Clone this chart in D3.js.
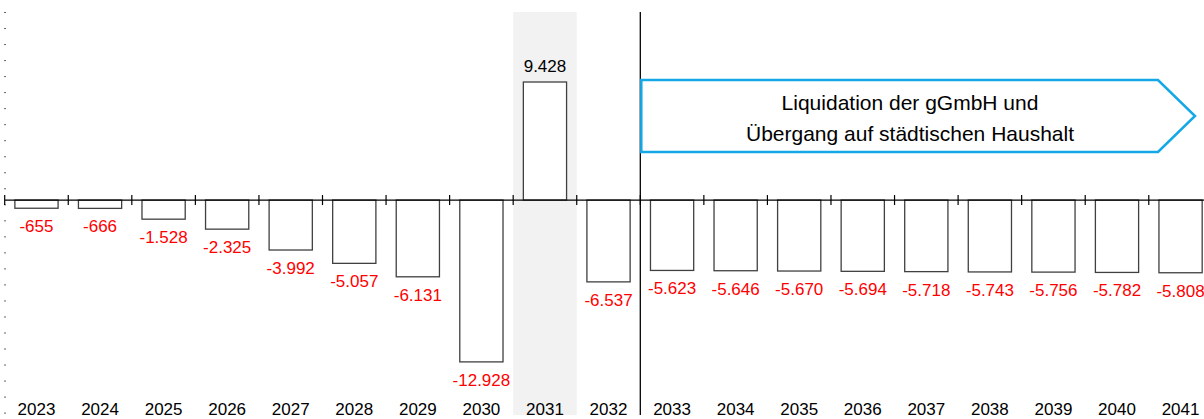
<!DOCTYPE html>
<html>
<head>
<meta charset="utf-8">
<script src="https://cdn.jsdelivr.net/npm/d3@7"></script>
<style>
  body{margin:0;background:#fff;}
  svg{display:block;font-family:"Liberation Sans",Arial,sans-serif;}
</style>
</head>
<body>
<div id="chart"></div>
<script>
const years = ["2023","2024","2025","2026","2027","2028","2029","2030","2031","2032",
               "2033","2034","2035","2036","2037","2038","2039","2040","2041"]
const values = [-655,-666,-1528,-2325,-3992,-5057,-6131,-12928,9428,-6537,
                -5623,-5646,-5670,-5694,-5718,-5743,-5756,-5782,-5808]
const highlightYear = "2031"
const splitAfter = "2032"
const noteLines = ["Liquidation der gGmbH und","Übergang auf städtischen Haushalt"]

const width = 1204, height = 419
const plotTop = 12, plotBottom = 415

const de = d3.formatLocale({decimal:",",thousands:".",grouping:[3],currency:["","€"],minus:"-"})
const fmt = de.format(",d")

const data = years.map((y,i)=>({year:y,value:values[i]}))

const x = d3.scaleBand()
  .domain(years)
  .range([4.7, 4.7 + 63.56*years.length])
  .paddingInner(0.32)
  .paddingOuter(0.16)

const y = d3.scaleLinear()
  .domain([-17170, 15020])
  .range([plotBottom, plotTop])

const svg = d3.select("#chart").append("svg")
  .attr("width",width).attr("height",height)

// highlighted column
svg.append("rect")
  .attr("x", x(highlightYear) - x.step()*x.paddingInner()/2)
  .attr("y", plotTop)
  .attr("width", x.step())
  .attr("height", plotBottom - plotTop)
  .attr("fill","#f2f2f2")

// faint left axis marks
const yAxis = d3.axisLeft(y)
  .tickValues(d3.range(15020, -17170, -1280))
  .tickSize(2).tickFormat("")
const yG = svg.append("g").attr("transform","translate(6,0)").call(yAxis)
yG.select(".domain").remove()
yG.selectAll("line").attr("stroke","#666").attr("stroke-width",1)

// split line
const splitX = x(splitAfter) + x.bandwidth() + x.step()*x.paddingInner()/2
svg.append("line")
  .attr("x1",splitX).attr("x2",splitX)
  .attr("y1",plotTop).attr("y2",plotBottom)
  .attr("stroke","#000").attr("stroke-width",1.3)

// bars
svg.selectAll(".bar")
  .data(data)
  .enter().append("rect")
  .attr("class","bar")
  .attr("x",d=>x(d.year))
  .attr("width",x.bandwidth())
  .attr("y",d=>y(Math.max(0,d.value)))
  .attr("height",d=>Math.abs(y(d.value)-y(0)))
  .attr("fill","#fff")
  .attr("stroke","#404040")
  .attr("stroke-width",1.3)

// zero line with ticks between categories
const zero = y(0)
svg.append("line")
  .attr("x1",5).attr("x2",width)
  .attr("y1",zero).attr("y2",zero)
  .attr("stroke","#000").attr("stroke-width",1.2)
const bounds = [x.range()[0]].concat(years.slice(0,-1).map(d=>x(d)+x.bandwidth()+x.step()*x.paddingInner()/2))
svg.selectAll(".sep")
  .data(bounds)
  .enter().append("line")
  .attr("x1",d=>d).attr("x2",d=>d)
  .attr("y1",zero-5).attr("y2",zero+5)
  .attr("stroke","#000").attr("stroke-width",1.2)

// value labels
svg.selectAll(".lbl")
  .data(data)
  .enter().append("text")
  .attr("x",d=>x(d.year)+x.bandwidth()/2)
  .attr("y",d=>d.value<0 ? y(d.value)+24 : y(d.value)-10)
  .attr("text-anchor","middle")
  .attr("font-size",17)
  .attr("fill",d=>d.value<0 ? "#ff0000" : "#000")
  .text(d=>fmt(d.value))

// year labels
svg.selectAll(".yr")
  .data(years)
  .enter().append("text")
  .attr("x",d=>x(d)+x.bandwidth()/2)
  .attr("y",415)
  .attr("text-anchor","middle")
  .attr("font-size",17)
  .attr("fill","#000")
  .text(d=>d)

// arrow note
const ax0 = splitX+1, ax1 = 1158, tip = 1195, at = 80, ab = 152
svg.append("path")
  .attr("d",`M${ax0},${at}L${ax1},${at}L${tip},${(at+ab)/2}L${ax1},${ab}L${ax0},${ab}Z`)
  .attr("fill","#fff")
  .attr("stroke","#14a8e6")
  .attr("stroke-width",2.5)
svg.selectAll(".note")
  .data(noteLines)
  .enter().append("text")
  .attr("x",910)
  .attr("y",(d,i)=>110+i*31)
  .attr("text-anchor","middle")
  .attr("font-size",21)
  .attr("fill","#000")
  .text(d=>d)
</script>
</body>
</html>
